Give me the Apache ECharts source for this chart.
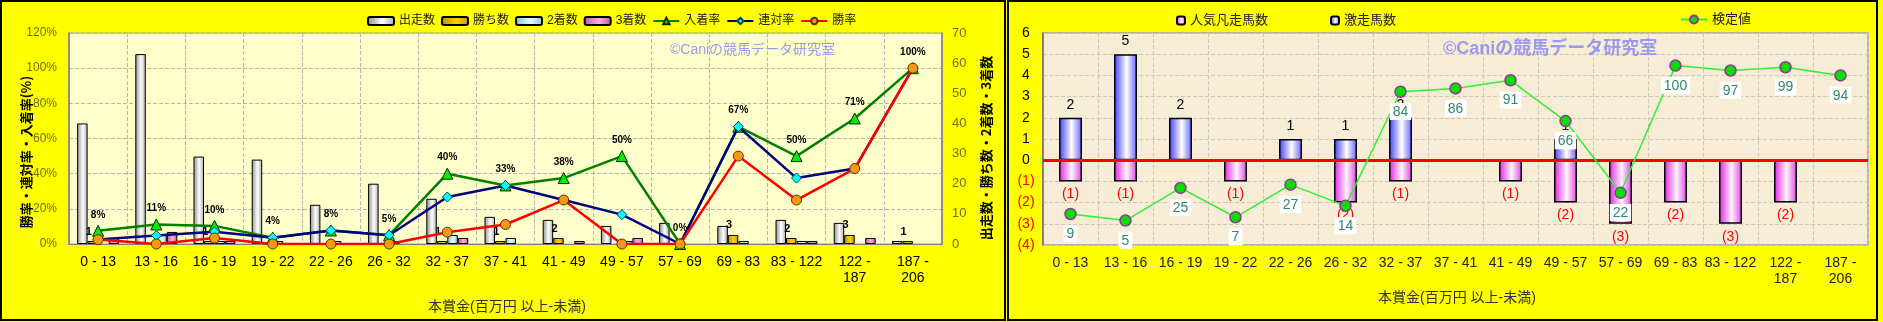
<!DOCTYPE html>
<html><head><meta charset="utf-8">
<script src="https://cdn.jsdelivr.net/npm/echarts@6/dist/echarts.min.js"></script>
<style>html,body{margin:0;padding:0;background:#fff}#c{width:1883px;height:322px}</style>
</head><body><div id="c"></div>
<script>
// ---- data ----
const categories = ['0 - 13','13 - 16','16 - 19','19 - 22','22 - 26','26 - 32','32 - 37','37 - 41','41 - 49','49 - 57','57 - 69','69 - 83','83 - 122','122 -\n187','187 -\n206'];
const runs    = [40,63,29,28,13,20,15,9,8,6,7,6,8,7,1];
const wins    = [1,0,1,0,0,0,1,1,2,0,0,3,2,3,1];
const seconds = [0,3,1,1,1,1,3,2,0,1,0,1,1,0,0];
const thirds  = [2,4,1,0,0,0,2,0,1,2,0,0,1,2,0];
const placeRate  = [7.5,11.1,10.3,3.6,7.7,5.0,40.0,33.3,37.5,50.0,0,66.7,50.0,71.4,100];
const rentaiRate = [2.5,4.8,6.9,3.6,7.7,5.0,26.7,33.3,25.0,16.7,0,66.7,37.5,42.9,100];
const winRate    = [2.5,0,3.4,0,0,0,6.7,11.1,25.0,0,0,50.0,25.0,42.9,100];
const gekisou     = [2,5,2,0,1,1,2,0,0,1,0,0,0,0,0];
const ninkiBonsou = [-1,-1,0,-1,0,-2,-1,0,-1,-2,-3,-2,-3,-2,0];
const kentei      = [9,5,25,7,27,14,84,86,91,66,22,100,97,99,94];

const FF = "'Liberation Sans','Noto Sans CJK JP',sans-serif";
const chart = echarts.init(document.getElementById('c'));
function grad(a,b,c){return new echarts.graphic.LinearGradient(0,0,1,0,[{offset:0,color:a},{offset:0.55,color:b},{offset:1,color:c}]);}
const nz = arr => arr.map(v => v === 0 ? '-' : v);   // zero-height bars are not drawn
const dash = {color:'#b5b5b5', type:'dashed', width:1};

const option = {
  animation:false,
  backgroundColor:'#ffff00',
  textStyle:{fontFamily:FF},
  grid:[
    {left:69, top:33, width:873, height:211, show:true, backgroundColor:'#ffffcc', borderColor:'#a0a0a0', borderWidth:1},
    {left:1043, top:33, width:825, height:212, show:true, backgroundColor:'#f7ecd6', borderColor:'#a0a0a0', borderWidth:1.5}
  ],
  legend:[
    {data:['出走数','勝ち数','2着数','3着数','入着率','連対率','勝率'], left:362, top:10, itemWidth:26, itemHeight:8, itemGap:6, textStyle:{fontSize:12, color:'#222', fontFamily:FF}},
    {data:['人気凡走馬数','激走馬数'], left:1171, top:9, itemWidth:8, itemHeight:8, itemGap:62, textStyle:{fontSize:13, color:'#222', fontFamily:FF}},
    {data:['検定値'], left:1675, top:8, itemWidth:26, itemHeight:10, textStyle:{fontSize:13, color:'#222', fontFamily:FF}}
  ],
  xAxis:[
    {type:'category', gridIndex:0, data:categories, axisLine:{lineStyle:{color:'#808080'}}, axisTick:{show:false},
     axisLabel:{interval:0, color:'#000', fontSize:14, margin:10, lineHeight:16, fontFamily:FF}, splitLine:{show:true, interval:0, lineStyle:dash}},
    {type:'category', gridIndex:1, data:categories, axisLine:{lineStyle:{color:'#909090'}}, axisTick:{show:false},
     axisLabel:{interval:0, color:'#222', fontSize:14, margin:10, lineHeight:16, fontFamily:FF}, splitLine:{show:true, interval:0, lineStyle:{color:'#cfc8b8', type:'dashed'}}}
  ],
  yAxis:[
    {type:'value', gridIndex:0, min:0, max:120, interval:20, axisLine:{show:true, lineStyle:{color:'#808080', width:1.5}}, axisTick:{show:false},
     axisLabel:{formatter:'{value}%', color:'#707000', fontSize:12, margin:12}, splitLine:{lineStyle:dash}},
    {type:'value', gridIndex:0, position:'right', min:0, max:70, interval:10, axisLine:{show:true, lineStyle:{color:'#808080', width:1.5}}, axisTick:{show:false},
     axisLabel:{color:'#707000', fontSize:13, margin:10}, splitLine:{show:false}},
    {type:'value', gridIndex:1, min:-4, max:6, interval:1, axisLine:{show:true, lineStyle:{color:'#707070', width:1.5}}, axisTick:{show:false},
     axisLabel:{margin:17, align:'center', formatter:v=> v<0 ? '{r|('+(-v)+')}' : '{b|'+v+'}',
       rich:{r:{color:'#ff0000', fontSize:14, fontFamily:FF}, b:{color:'#000', fontSize:14, fontFamily:FF}}},
     splitLine:{lineStyle:{color:'#cfc8b8', type:'dashed'}}},
    {type:'value', gridIndex:1, min:-10, max:120, show:false, splitLine:{show:false}}
  ],
  series:[
    {name:'出走数', type:'bar', xAxisIndex:0, yAxisIndex:1, data:nz(runs), barWidth:10.5, barGap:'0%',
     itemStyle:{color:grad('#8c8c8c','#ffffff','#a8a8a8'), borderColor:'#000', borderWidth:1}},
    {name:'勝ち数', type:'bar', xAxisIndex:0, yAxisIndex:1, data:nz(wins), barWidth:10.5, barGap:'0%',
     itemStyle:{color:grad('#c08c00','#ffd000','#c89400'), borderColor:'#000', borderWidth:1},
     label:{show:true, position:'top', distance:4, offset:[-4,0], formatter:p=>p.value, fontSize:11, fontWeight:'bold', color:'#000'}},
    {name:'2着数', type:'bar', xAxisIndex:0, yAxisIndex:1, data:nz(seconds), barWidth:10.5, barGap:'0%',
     itemStyle:{color:grad('#78bccc','#e8ffff','#88c4d4'), borderColor:'#000', borderWidth:1}},
    {name:'3着数', type:'bar', xAxisIndex:0, yAxisIndex:1, data:nz(thirds), barWidth:10.5, barGap:'0%',
     itemStyle:{color:grad('#c05898','#ffb0e0','#c05898'), borderColor:'#000', borderWidth:1}},
    {name:'入着率', type:'line', xAxisIndex:0, yAxisIndex:0, data:placeRate, z:3, showAllSymbol:true,
     lineStyle:{color:'#008000', width:2.5}, symbol:'triangle', symbolSize:11,
     itemStyle:{color:'#00ee00', borderColor:'#003000', borderWidth:1},
     label:{show:true, position:'top', distance:5, formatter:p=>Math.round(p.value)+'%', fontSize:10, fontWeight:'bold', color:'#000'}},
    {name:'連対率', type:'line', xAxisIndex:0, yAxisIndex:0, data:rentaiRate, z:4, showAllSymbol:true,
     lineStyle:{color:'#000080', width:2.5}, symbol:'diamond', symbolSize:10,
     itemStyle:{color:'#00ffff', borderColor:'#004060', borderWidth:1}},
    {name:'勝率', type:'line', xAxisIndex:0, yAxisIndex:0, data:winRate, z:5, showAllSymbol:true,
     lineStyle:{color:'#ff0000', width:2.5}, symbol:'circle', symbolSize:10,
     itemStyle:{color:'#f59a10', borderColor:'#603000', borderWidth:1}},
    {name:'人気凡走馬数', type:'bar', xAxisIndex:1, yAxisIndex:2, data:nz(ninkiBonsou), barWidth:23, barGap:'-100%',
     itemStyle:{color:grad('#e020e0','#fff4ff','#e040e0'), borderColor:'#000', borderWidth:1.5},
     label:{show:true, position:'bottom', distance:6, formatter:p=>'('+(-p.value)+')', color:'#ff0000', fontSize:14}},
    {name:'激走馬数', type:'bar', xAxisIndex:1, yAxisIndex:2, data:nz(gekisou), barWidth:23, barGap:'-100%',
     itemStyle:{color:grad('#3c3cff','#ffffff','#6060ff'), borderColor:'#000', borderWidth:1.5},
     label:{show:true, position:'top', distance:6, formatter:p=>p.value, color:'#000', fontSize:14}},
    {name:'検定値', type:'line', xAxisIndex:1, yAxisIndex:3, data:kentei, z:5, showAllSymbol:true,
     lineStyle:{color:'#33ee33', width:1.5}, symbol:'circle', symbolSize:11,
     itemStyle:{color:'#00e000', borderColor:'#993399', borderWidth:1.5},
     label:{show:true, position:'bottom', distance:5, color:'#2f8a6a', fontSize:14, backgroundColor:'#ffffff', padding:[2,3,1,3]}},
    {type:'line', xAxisIndex:1, yAxisIndex:2, data:[], z:4, silent:true,
     markLine:{silent:true, symbol:'none', label:{show:false}, lineStyle:{color:'#ff0000', width:3, type:'solid'}, data:[{yAxis:0}]}}
  ],
  graphic:[
    {type:'rect', shape:{x:1, y:1, width:1004, height:319}, style:{fill:'none', stroke:'#000', lineWidth:2}, z:100},
    {type:'rect', shape:{x:1008, y:1, width:869, height:319}, style:{fill:'none', stroke:'#000', lineWidth:2}, z:100},
    {type:'text', x:670, y:43, style:{text:'©Caniの競馬データ研究室', font:"14px 'Liberation Sans','Noto Sans CJK JP'", fill:'#9a9aee'}, z:1},
    {type:'text', x:1443, y:40, style:{text:'©Caniの競馬データ研究室', font:"bold 18px 'Liberation Sans','Noto Sans CJK JP'", fill:'#9a9aee'}, z:1},
    {type:'text', x:26, y:152, rotation:Math.PI/2, style:{text:'勝率・連対率・入着率(%)', font:"bold 13px 'Noto Sans CJK JP'", fill:'#000', align:'center', verticalAlign:'middle'}},
    {type:'text', x:986, y:148, rotation:Math.PI/2, style:{text:'出走数・勝ち数・2着数・3着数', font:"bold 13px 'Noto Sans CJK JP'", fill:'#000', align:'center', verticalAlign:'middle'}},
    {type:'text', x:507, y:307, style:{text:'本賞金(百万円 以上-未満)', font:"14px 'Liberation Sans','Noto Sans CJK JP'", fill:'#333', align:'center', verticalAlign:'middle'}},
    {type:'text', x:1457, y:298, style:{text:'本賞金(百万円 以上-未満)', font:"14px 'Liberation Sans','Noto Sans CJK JP'", fill:'#333', align:'center', verticalAlign:'middle'}}
  ]
};
chart.setOption(option);
</script></body></html>
